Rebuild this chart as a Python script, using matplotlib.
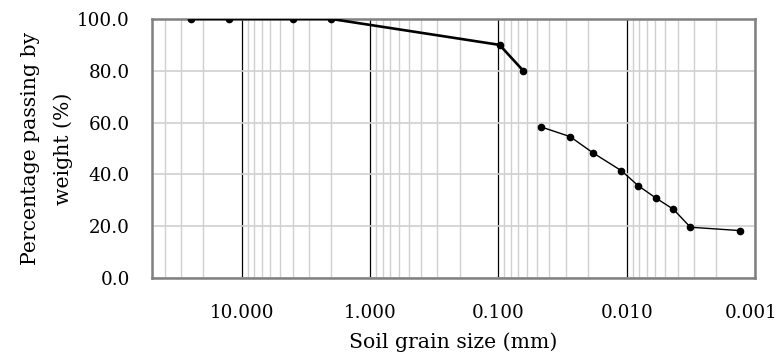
import matplotlib
matplotlib.use("Agg")
import matplotlib.pyplot as plt
import matplotlib.transforms as mtransforms
from matplotlib.ticker import LogLocator, FixedLocator, NullFormatter

plt.rcParams['font.family'] = ['DejaVu Serif']

# Sieve analysis
sieve_size = [25.0, 12.5, 4.0, 2.0, 0.098, 0.064]
sieve_pass = [100.0, 100.0, 100.0, 100.0, 90.0, 80.0]

# Hydrometer analysis
hydro_size = [0.0464, 0.0277, 0.0183, 0.0110, 0.00817, 0.00594, 0.00432, 0.00319, 0.00131]
hydro_pass = [58.3, 54.6, 48.3, 41.4, 35.7, 30.9, 26.5, 19.6, 18.3]

x_ticks = [10, 1, 0.1, 0.01, 0.001]
x_tick_labels = ["10.000", "1.000", "0.100", "0.010", "0.001"]
y_ticks = [0, 20, 40, 60, 80, 100]
y_tick_labels = ["0.0", "20.0", "40.0", "60.0", "80.0", "100.0"]

fig = plt.figure(figsize=(7.8, 3.58), dpi=100)
ax = fig.add_axes([0.195, 0.2235, 0.773, 0.7235])

ax.set_xscale('log')
ax.set_xlim(50, 0.001)
ax.set_ylim(0, 100)

ax.plot(sieve_size, sieve_pass, color='black', lw=1.9, marker='o', ms=4.5, zorder=5)
ax.plot(hydro_size, hydro_pass, color='black', lw=1.0, marker='o', ms=4.5, zorder=5)

ax.xaxis.set_major_locator(FixedLocator(x_ticks))
ax.set_xticklabels(x_tick_labels)
ax.xaxis.set_minor_locator(LogLocator(base=10, subs=[2, 3, 4, 5, 6, 7, 8, 9], numticks=20))
ax.xaxis.set_minor_formatter(NullFormatter())
ax.set_yticks(y_ticks)
ax.set_yticklabels(y_tick_labels)

ax.grid(True, which='minor', axis='x', color='#d0d0d0', lw=1.0)
ax.grid(True, which='major', axis='x', color='black', lw=0.9)
ax.grid(True, which='major', axis='y', color='#d0d0d0', lw=1.2)
ax.set_axisbelow(True)

ax.tick_params(axis='both', which='both', length=0, labelsize=13.2)
ax.tick_params(axis='x', pad=19)
ax.tick_params(axis='y', pad=16)

# keep the last x tick label inside the figure
last = ax.get_xticklabels()[-1]
last.set_transform(last.get_transform() + mtransforms.ScaledTranslation(-4 / 100, 0, fig.dpi_scale_trans))

for s in ax.spines.values():
    s.set_color('#808080')
    s.set_linewidth(1.8)

ax.set_xlabel("Soil grain size (mm)", fontsize=14.7, labelpad=7)
ax.set_ylabel("Percentage passing by\nweight (%)", fontsize=14.7, labelpad=3, linespacing=1.85)

fig.savefig("out.png", dpi=100)
